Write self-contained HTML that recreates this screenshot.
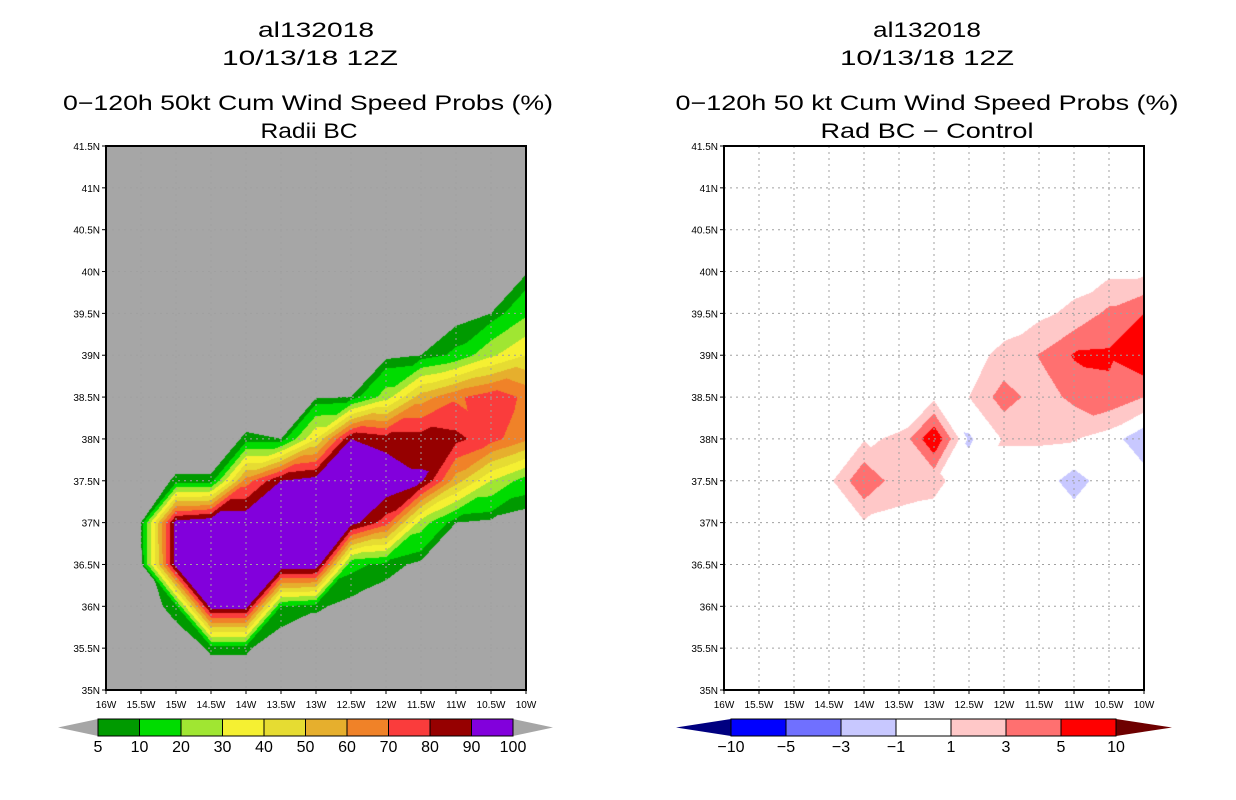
<!DOCTYPE html>
<html><head><meta charset="utf-8"><style>
body{margin:0;background:#fff;width:1236px;height:800px;position:relative;overflow:hidden;font-family:"Liberation Sans",sans-serif}
canvas{position:absolute}
svg{position:absolute;left:0;top:0}
</style></head><body>
<canvas id="cL" width="420" height="544" style="left:106px;top:146px"></canvas>
<canvas id="cR" width="420" height="544" style="left:724px;top:146px"></canvas>
<svg id="s" width="1236" height="800"></svg>
<script>
// ---- data ----
const lons=[-16,-15.5,-15,-14.5,-14,-13.5,-13,-12.5,-12,-11.5,-11,-10.5,-10];
const lats=[35,35.5,36,36.5,37,37.5,38,38.5,39,39.5,40,40.5,41,41.5];
const probRows=[
[0,0,0,0,0,0,0,0,0,0,0,0,0],
[0,0,0,6,6,0,0,0,0,0,0,0,0],
[0,0,8,95,95,10,6,3,0,0,0,0,0],
[0,3,95,100,100,100,100,12,8,3,0,0,0],
[0,5,95,100,100,100,100,95,75,25,5,3,0],
[0,0,6,6,65,90,95,100,100,92,55,30,15],
[0,0,0,0,6,5,40,90,85,85,83,74,62],
[0,0,0,0,0,0,4,5,25,55,68,76,68],
[0,0,0,0,0,0,0,0,3,5,12,28,40],
[0,0,0,0,0,0,0,0,0,0,2,5,18],
[0,0,0,0,0,0,0,0,0,0,0,0,4],
[0,0,0,0,0,0,0,0,0,0,0,0,0],
[0,0,0,0,0,0,0,0,0,0,0,0,0],
[0,0,0,0,0,0,0,0,0,0,0,0,0]];
const diffRows=[
[0,0,0,0,0,0,0,0,0,0,0,0,0],
[0,0,0,0,0,0,0,0,0,0,0,0,0],
[0,0,0,0,0,0,0,0,0,0,0,0,0],
[0,0,0,0,0,0,0,0,0,0,0,0,0],
[0,0,0,0,0.8,0.5,0.3,0,0,0,0,0,0],
[0,0,0,0.5,4.8,1.8,1.5,0,0,0,-1.8,0,0],
[0,0,0,0,0.8,1.2,7,-1.3,1.2,1.2,1.1,0,-2.5],
[0,0,0,0,0,0,0.5,1.0,4,2,3.5,4.5,3],
[0,0,0,0,0,0,0,0.3,1.5,3.1,5.2,5.3,7],
[0,0,0,0,0,0,0,0,0,0.5,1.5,3.5,5],
[0,0,0,0,0,0,0,0,0,0,0,0.5,0.5],
[0,0,0,0,0,0,0,0,0,0,0,0,0],
[0,0,0,0,0,0,0,0,0,0,0,0,0],
[0,0,0,0,0,0,0,0,0,0,0,0,0]];
const probLevels=[5,10,20,30,40,50,60,70,80,90];
const probColors=['#a6a6a6','#009a00','#00dc00','#a0e632','#f5f032','#e6dc32','#e6af2d','#f08228','#fa3c3c','#960000','#8200dc'];
const probBarColors=['#a6a6a6','#009a00','#00dc00','#a0e632','#f5f032','#e6dc32','#e6af2d','#f08228','#fa3c3c','#960000','#8200dc','#a6a6a6'];
const diffLevels=[-10,-5,-3,-1,1,3,5,10];
const diffColors=['#000080','#0000ff','#7070ff','#c8c8ff','#ffffff','#ffc8c8','#ff7070','#ff0000','#6e0000'];
const xTicks=['16W','15.5W','15W','14.5W','14W','13.5W','13W','12.5W','12W','11.5W','11W','10.5W','10W'];
const yTicks=['35N','35.5N','36N','36.5N','37N','37.5N','38N','38.5N','39N','39.5N','40N','40.5N','41N','41.5N'];
const probBarLabels=['5','10','20','30','40','50','60','70','80','90','100'];
const diffBarLabels=['\u221210','\u22125','\u22123','\u22121','1','3','5','10'];

// ---- axes ----
const W=420,H=544,LON0=-16,LON1=-10,LAT0=35,LAT1=41.5;
const xs=l=>(l-LON0)/(LON1-LON0)*W;
const ys=l=>H-(l-LAT0)/(LAT1-LAT0)*H;
const inv=(px,py)=>[LON0+px/W*(LON1-LON0),LAT0+(H-py)/H*(LAT1-LAT0)];

function interp(rows,lon,lat){
  let fi=(lon-lons[0])/0.5, fj=(lat-lats[0])/0.5;
  let i=Math.min(Math.max(Math.floor(fi),0),lons.length-2), j=Math.min(Math.max(Math.floor(fj),0),lats.length-2);
  let a=fi-i,b=fj-j;
  const v00=rows[j][i],v10=rows[j][i+1],v01=rows[j+1][i],v11=rows[j+1][i+1];
  if(Math.abs(v00-v11)<=Math.abs(v10-v01)){
    if(a>=b) return v00+(v10-v00)*a+(v11-v10)*b;
    return v00+(v01-v00)*b+(v11-v01)*a;
  } else {
    if(a+b<=1) return v00+(v10-v00)*a+(v01-v00)*b;
    return v11+(v01-v11)*(1-a)+(v10-v11)*(1-b);
  }
}
function hex(c){return [parseInt(c.slice(1,3),16),parseInt(c.slice(3,5),16),parseInt(c.slice(5,7),16)];}
function paint(id,rows,levels,colors){
  const ctx=document.getElementById(id).getContext('2d');
  const img=ctx.createImageData(W,H);const cols=colors.map(hex);
  for(let py=0;py<H;py++)for(let px=0;px<W;px++){
    const [lo,la]=inv(px+0.5,py+0.5);const v=interp(rows,lo,la);
    let k=0;while(k<levels.length&&v>=levels[k])k++;
    if(k>=cols.length)k=cols.length-1;
    const c=cols[k],o=(py*W+px)*4;img.data[o]=c[0];img.data[o+1]=c[1];img.data[o+2]=c[2];img.data[o+3]=255;
  }
  ctx.putImageData(img,0,0);
}
paint('cL',probRows,probLevels,probColors);
paint('cR',diffRows,diffLevels,diffColors);

const NS='http://www.w3.org/2000/svg',svg=document.getElementById('s');
function el(t,a,p){const e=document.createElementNS(NS,t);for(const k in a)e.setAttribute(k,a[k]);(p||svg).appendChild(e);return e;}
function txt(x,y,s,size,anchor,len,p){const e=el('text',{x:x,y:y,'font-size':size,'text-anchor':anchor||'middle','font-family':'Liberation Sans, sans-serif',fill:'#000'},p);if(len){e.setAttribute('textLength',len);e.setAttribute('lengthAdjust','spacingAndGlyphs');}e.textContent=s;return e;}

function panel(ox,name){
  const g=el('g',{transform:`translate(${ox},146)`});
  
  
  lons.forEach((l,i)=>{ if(i>0&&i<lons.length-1) el('line',{x1:xs(l),y1:0,x2:xs(l),y2:H,stroke:'#a0a0a0','stroke-width':1,'stroke-dasharray':'2,4'},g);
    const t=txt(xs(l),562,xTicks[i],10,'middle',null,g);
    
    
    el('line',{x1:xs(l),y1:H,x2:xs(l),y2:H+4,stroke:'#000'},g);});
  lats.forEach((l,j)=>{ if(j>0&&j<lats.length-1) el('line',{x1:0,y1:ys(l),x2:W,y2:ys(l),stroke:'#a0a0a0','stroke-width':1,'stroke-dasharray':'2,4'},g);
    const t=txt(-6,ys(l)+4,yTicks[j],10,'end',null,g);
    
    
    el('line',{x1:-4,y1:ys(l),x2:0,y2:ys(l),stroke:'#000'},g);});
  el('rect',{x:0,y:0,width:W,height:H,fill:'none',stroke:'#000','stroke-width':2},g);
}
panel(106,'left');panel(724,'right');

// titles
[[316,37,'al132018',116],[310,65,'10/13/18 12Z',176],[308,110,'0\u2212120h 50kt Cum Wind Speed Probs (%)',490],[309,138,'Radii BC',97],
 [927,37,'al132018',108],[927,65,'10/13/18 12Z',174],[927,110,'0\u2212120h 50 kt Cum Wind Speed Probs (%)',503],[927,138,'Rad BC \u2212 Control',213]].forEach((d,k)=>{
  const t=txt(d[0],d[1],d[2],21,'middle',d[3]);
  
  
});

// colorbars
function colorbar(x0,x1,tipL,tipR,colors,labels,name){
  const g=el('g',{});
  
  
  const y0=719,y1=736,ym=(y0+y1)/2,n=colors.length-2,w=(x1-x0)/n;
  el('polygon',{points:`${tipL},${ym} ${x0},${y0} ${x0},${y1}`,fill:colors[0]},g);
  el('polygon',{points:`${tipR},${ym} ${x1},${y0} ${x1},${y1}`,fill:colors[colors.length-1]},g);
  for(let k=0;k<n;k++) el('rect',{x:x0+k*w,y:y0,width:w,height:y1-y0,fill:colors[k+1],stroke:'#000','stroke-width':1},g);
  labels.forEach((s,k)=>txt(x0+k*w,752,s,16,'middle',null,g));
}
colorbar(98,513,58,553,probBarColors,probBarLabels,'left-colorbar');
colorbar(731,1116,676,1172,diffColors,diffBarLabels,'right-colorbar');
</script>
</body></html>
